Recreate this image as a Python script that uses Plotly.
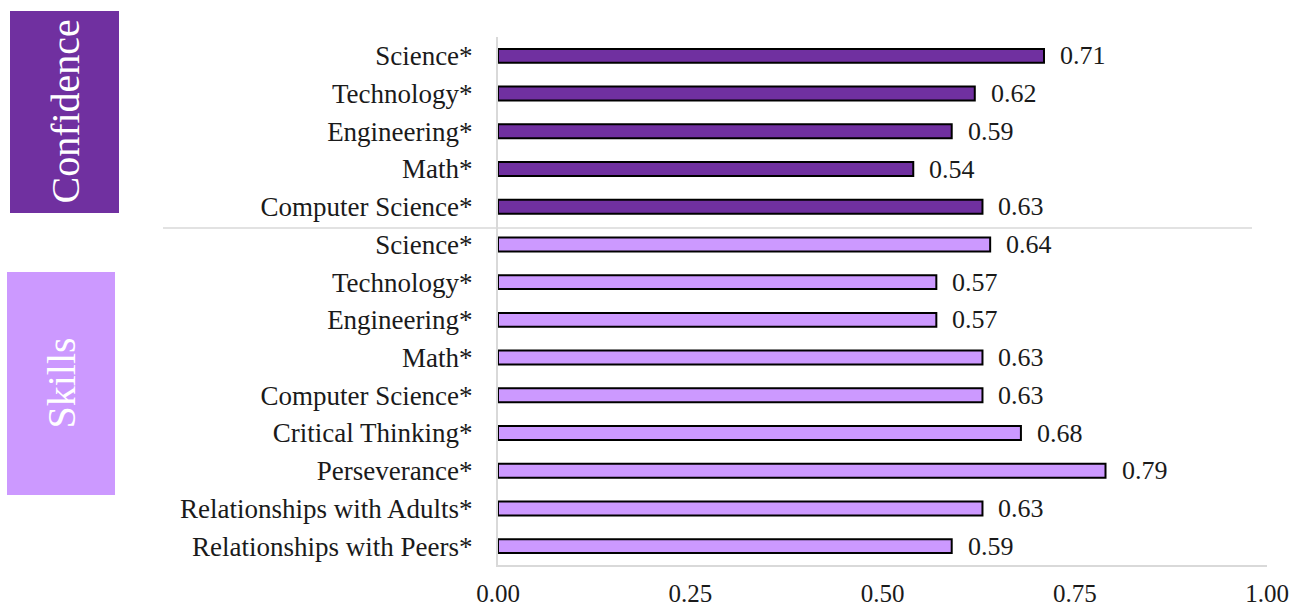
import plotly.graph_objects as go

# Survey gains by item, grouped into Confidence and Skills
confidence_labels = ["Science*", "Technology*", "Engineering*", "Math*", "Computer Science*"]
confidence_values = [0.71, 0.62, 0.59, 0.54, 0.63]

skills_labels = ["Science*", "Technology*", "Engineering*", "Math*", "Computer Science*",
                 "Critical Thinking*", "Perseverance*", "Relationships with Adults*",
                 "Relationships with Peers*"]
skills_values = [0.64, 0.57, 0.57, 0.63, 0.63, 0.68, 0.79, 0.63, 0.59]

x_ticks = [0, 0.25, 0.5, 0.75, 1.0]
x_tick_text = ["0.00", "0.25", "0.50", "0.75", "1.00"]

CONF_COLOR = "#7030A0"
SKILL_COLOR = "#CC99FF"
FONT = "Liberation Serif"
TEXT_COLOR = "#1a1a1a"

conf_pos = list(range(len(confidence_labels)))
skill_pos = [len(confidence_labels) + i for i in range(len(skills_labels))]

fig = go.Figure()
for pos, vals, color, name in [(conf_pos, confidence_values, CONF_COLOR, "Confidence"),
                               (skill_pos, skills_values, SKILL_COLOR, "Skills")]:
    fig.add_trace(go.Bar(
        x=vals, y=pos, orientation="h", width=0.37, name=name,
        marker=dict(color=color, line=dict(color="#000000", width=2)),
        showlegend=False,
    ))
    for p, v in zip(pos, vals):
        fig.add_annotation(x=v, y=p, xref="x", yref="y", text=f"{v:.2f}",
                           showarrow=False, xanchor="left", xshift=14,
                           font=dict(family=FONT, size=26, color=TEXT_COLOR))

L, R, T, B = 498, 33, 37, 45
W, H = 1300, 610
pw, ph = W - L - R, H - T - B

def px_x(px):
    return (px - L) / pw

def px_y(py):
    return (H - B - py) / ph

# group boxes with rotated titles
for x0, x1, y0, y1, color, label in [(10, 119, 11, 213, CONF_COLOR, "Confidence"),
                                     (7, 115, 272, 495, SKILL_COLOR, "Skills")]:
    fig.add_shape(type="rect", xref="paper", yref="paper",
                  x0=px_x(x0), x1=px_x(x1), y0=px_y(y1), y1=px_y(y0),
                  fillcolor=color, line=dict(width=0), layer="above")
    fig.add_annotation(xref="paper", yref="paper",
                       x=px_x((x0 + x1) / 2), y=px_y((y0 + y1) / 2),
                       xanchor="center", yanchor="middle",
                       text=label, textangle=-90, showarrow=False,
                       font=dict(family=FONT, size=40, color="#ffffff"))

# divider between the two groups
fig.add_shape(type="line", xref="paper", yref="paper",
              x0=px_x(163), x1=px_x(1252), y0=px_y(228), y1=px_y(228),
              line=dict(color="#d9d9d9", width=1.5))

fig.update_layout(
    width=W, height=H,
    margin=dict(l=L, r=R, t=T, b=B, autoexpand=False),
    plot_bgcolor="#ffffff", paper_bgcolor="#ffffff",
    font=dict(family=FONT, size=26, color=TEXT_COLOR),
    xaxis=dict(range=[0, 1.0], tickvals=x_ticks, ticktext=x_tick_text,
               showgrid=False, zeroline=False, showline=True, automargin=False,
               linecolor="#d9d9d9", linewidth=2, ticks="", ticklabelstandoff=5,
               tickfont=dict(family=FONT, size=25, color=TEXT_COLOR)),
    yaxis=dict(range=[len(conf_pos) + len(skill_pos) - 0.5, -0.5],
               tickvals=conf_pos + skill_pos,
               ticktext=confidence_labels + skills_labels,
               showgrid=False, zeroline=False, showline=True, automargin=False,
               linecolor="#d9d9d9", linewidth=2, ticks="", ticklabelstandoff=18,
               tickfont=dict(family=FONT, size=27, color=TEXT_COLOR)),
)

fig.write_html("out.html")
